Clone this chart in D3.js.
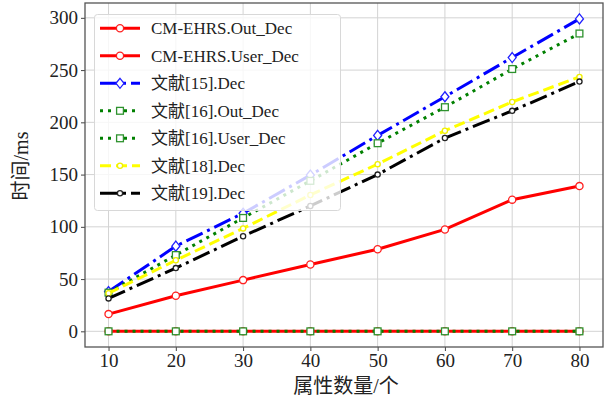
<!DOCTYPE html>
<html>
<head>
<meta charset="utf-8">
<script src="https://cdn.jsdelivr.net/npm/d3@7"></script>
<style>
  body { margin: 0; background: #fff; }
  svg { display: block; }
  text { font-family: "Liberation Serif", "Noto Sans CJK SC", serif; }
</style>
</head>
<body>
<svg id="chart" width="608" height="402"></svg>
<script>
// attribute count on the x axis
const attrCounts = [10, 20, 30, 40, 50, 60, 70, 80];

// decryption time (ms) per scheme
const cmOutDec   = [0, 0, 0, 0, 0, 0, 0, 0];
const cmUserDec  = [16.5, 34, 49, 64, 78.5, 97.5, 126, 139];
const ref15Dec   = [38, 81.5, 113, 149.5, 187.5, 224.5, 262, 299];
const ref16Out   = [0, 0, 0, 0, 0, 0, 0, 0];
const ref16User  = [37, 73, 108.5, 144, 180, 214.5, 251, 285];
const ref18Dec   = [36.5, 68, 98.5, 130.5, 160, 192, 219.5, 243.5];
const ref19Dec   = [31.5, 60.5, 91, 120, 150, 185, 211, 239];

const seriesNames = ["CM-EHRS.Out_Dec", "CM-EHRS.User_Dec", "文献[15].Dec",
  "文献[16].Out_Dec", "文献[16].User_Dec", "文献[18].Dec", "文献[19].Dec"];

const xTicks = [10, 20, 30, 40, 50, 60, 70, 80];
const yTicks = [0, 50, 100, 150, 200, 250, 300];

const series = [
  { name: seriesNames[0], values: cmOutDec,  color: "#ff0000", edge: "#ff2020", dash: null,      marker: "circle",  r: 3.6 },
  { name: seriesNames[1], values: cmUserDec, color: "#ff0000", edge: "#ff2020", dash: null,      marker: "circle",  r: 3.6 },
  { name: seriesNames[2], values: ref15Dec,  color: "#0000ff", edge: "#2020ff", dash: "18,5,3,5", marker: "diamond", r: 5 },
  { name: seriesNames[3], values: ref16Out,  color: "#008000", edge: "#2e922e", dash: "3,5",     marker: "square",  r: 3.4 },
  { name: seriesNames[4], values: ref16User, color: "#008000", edge: "#2e922e", dash: "3,5",     marker: "square",  r: 3.4 },
  { name: seriesNames[5], values: ref18Dec,  color: "#ffff00", edge: "#f0f000", dash: "11,5",    marker: "circle",  r: 2.6 },
  { name: seriesNames[6], values: ref19Dec,  color: "#000000", edge: "#222222", dash: "18,5,3,5", marker: "circle",  r: 2.6 }
];

const frame = { left: 85, right: 603, top: 3, bottom: 347 };
const svg = d3.select("#chart");
const serif = "Liberation Serif, Noto Sans CJK SC, serif";

const x = d3.scaleLinear().domain([6.5, 83.5]).range([frame.left, frame.right]);
const y = d3.scaleLinear().domain([-15, 314.2]).range([frame.bottom, frame.top]);

// grid
const grid = svg.append("g").attr("stroke", "#d3d3d3").attr("stroke-width", 1);
grid.selectAll(".vg").data(xTicks).enter().append("line")
  .attr("x1", d => x(d)).attr("x2", d => x(d))
  .attr("y1", frame.top).attr("y2", frame.bottom);
grid.selectAll(".hg").data(yTicks).enter().append("line")
  .attr("x1", frame.left).attr("x2", frame.right)
  .attr("y1", d => y(d)).attr("y2", d => y(d));

// axes
const xAxis = svg.append("g")
  .attr("transform", "translate(0," + frame.bottom + ")")
  .call(d3.axisBottom(x).tickValues(xTicks).tickSize(4).tickPadding(3).tickSizeOuter(0));
const yAxis = svg.append("g")
  .attr("transform", "translate(" + frame.left + ",0)")
  .call(d3.axisLeft(y).tickValues(yTicks).tickSize(4).tickPadding(3).tickSizeOuter(0));
[xAxis, yAxis].forEach(a => {
  a.attr("font-family", serif).attr("font-size", 19);
  a.select(".domain").remove();
  a.selectAll(".tick line").attr("stroke", "#444").attr("stroke-width", 1);
  a.selectAll(".tick text").attr("fill", "#222");
});

// series
const line = d3.line().x((d, i) => x(attrCounts[i])).y(d => y(d));

function drawMarker(g, s, cx, cy) {
  let m;
  if (s.marker === "circle") {
    m = g.append("circle").attr("cx", cx).attr("cy", cy).attr("r", s.r);
  } else if (s.marker === "square") {
    m = g.append("rect").attr("x", cx - s.r).attr("y", cy - s.r)
      .attr("width", s.r * 2).attr("height", s.r * 2);
  } else {
    const r = s.r;
    m = g.append("path").attr("d", `M${cx},${cy - r}L${cx + r * 0.8},${cy}L${cx},${cy + r}L${cx - r * 0.8},${cy}Z`);
  }
  m.attr("fill", "#fff").attr("stroke", s.edge).attr("stroke-width", 1.3);
}

const plot = svg.append("g");
series.forEach(s => {
  const g = plot.append("g");
  g.append("path").datum(s.values)
    .attr("d", line)
    .attr("fill", "none")
    .attr("stroke", s.color)
    .attr("stroke-width", 3)
    .attr("stroke-dasharray", s.dash);
  s.values.forEach((v, i) => drawMarker(g, s, x(attrCounts[i]), y(v)));
});

// frame
svg.append("rect")
  .attr("x", frame.left).attr("y", frame.top)
  .attr("width", frame.right - frame.left).attr("height", frame.bottom - frame.top)
  .attr("fill", "none").attr("stroke", "#555").attr("stroke-width", 1.3);

// legend
const legend = svg.append("g");
legend.append("rect")
  .attr("x", 94.5).attr("y", 14.5).attr("width", 246).attr("height", 196)
  .attr("rx", 3)
  .attr("fill", "#fff").attr("fill-opacity", 0.8)
  .attr("stroke", "#d8d8d8").attr("stroke-width", 1);

const rowY = d3.scaleLinear().domain([0, series.length - 1]).range([28.3, 193.3]);
series.forEach((s, i) => {
  const cy = rowY(i);
  const g = legend.append("g");
  g.append("line")
    .attr("x1", 100).attr("x2", 140).attr("y1", cy).attr("y2", cy)
    .attr("stroke", s.color).attr("stroke-width", 3)
    .attr("stroke-dasharray", s.dash);
  drawMarker(g, s, 120, cy);
  g.append("text")
    .attr("x", 151).attr("y", cy).attr("dy", "0.35em")
    .attr("font-family", serif).attr("font-size", 17)
    .attr("fill", "#222")
    .text(s.name);
});

// axis titles
svg.append("text")
  .attr("x", 346).attr("y", 393)
  .attr("text-anchor", "middle")
  .attr("font-family", serif).attr("font-size", 20).attr("fill", "#222")
  .text("属性数量/个");
svg.append("text")
  .attr("transform", "translate(28,166) rotate(-90)")
  .attr("text-anchor", "middle")
  .attr("font-family", serif).attr("font-size", 20).attr("fill", "#222")
  .text("时间/ms");
</script>
</body>
</html>
